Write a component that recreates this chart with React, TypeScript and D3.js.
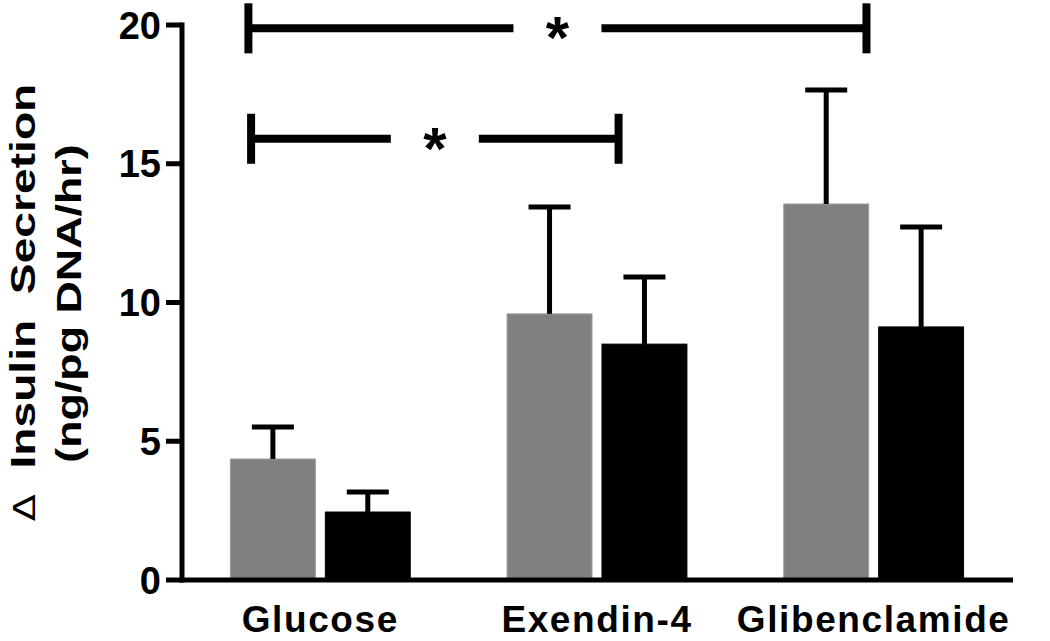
import * as d3 from "d3";
import React from "react";

// chart data
const categories = ["Glucose", "Exendin-4", "Glibenclamide"];
const seriesKeys = ["grey", "black"];
const greyMeans = [4.36, 9.59, 13.55];
const greySem = [1.15, 3.85, 4.11];
const blackMeans = [2.45, 8.5, 9.12];
const blackSem = [0.72, 2.42, 3.6];
const yTicks = [0, 5, 10, 15, 20];
const brackets = [
  { from: "Glucose", fromFrac: 0.1, to: "Glibenclamide", toFrac: 0.46, level: 19.88 },
  { from: "Glucose", fromFrac: 0.115, to: "Exendin-4", toFrac: 0.62, level: 15.9 },
];

const W = 1050;
const H = 641;
const font = "'Liberation Sans', Arial, sans-serif";

const App = () => {
  // scales
  const x = d3.scaleBand().domain(categories).range([182, 1012]).paddingInner(0.35).paddingOuter(0.175);
  const xs = d3.scaleBand().domain(seriesKeys).range([0, x.bandwidth()]).paddingInner(10 / 95);
  const y = d3.scaleLinear().domain([0, 20]).range([580, 25]);
  const axisX = 182;
  const midY = (y(0) + y(20)) / 2;

  const rows = categories.map((c, i) => ({
    cat: c,
    bars: [
      { key: "grey", mean: greyMeans[i], sem: greySem[i], fill: "#808080", stroke: "#9c9c9c" },
      { key: "black", mean: blackMeans[i], sem: blackSem[i], fill: "#000", stroke: "#000" },
    ],
  }));

  return (
    <svg width={W} height={H} style={{ position: "absolute", left: 0, top: 0, background: "#fff" }} fontFamily={font}>
      {/* bars */}
      {rows.map((r) =>
        r.bars.map((b) => {
          const bx = x(r.cat)! + xs(b.key)!;
          const cx = bx + xs.bandwidth() / 2;
          return (
            <g key={r.cat + b.key}>
              <rect x={bx} y={y(b.mean)} width={xs.bandwidth()} height={y(0) - y(b.mean)} fill={b.fill} stroke={b.stroke} strokeWidth={1} />
              <line x1={cx} x2={cx} y1={y(b.mean)} y2={y(b.mean + b.sem)} stroke="#000" strokeWidth={5} />
              <line x1={cx - 21} x2={cx + 21} y1={y(b.mean + b.sem)} y2={y(b.mean + b.sem)} stroke="#000" strokeWidth={5} />
            </g>
          );
        })
      )}

      {/* axes */}
      <line x1={axisX} x2={axisX} y1={y(20) - 2.5} y2={y(0) + 2.5} stroke="#000" strokeWidth={5} />
      <line x1={axisX - 2.5} x2={1013} y1={y(0)} y2={y(0)} stroke="#000" strokeWidth={5} />
      {yTicks.map((t) => (
        <g key={t}>
          <line x1={axisX - 16} x2={axisX} y1={y(t)} y2={y(t)} stroke="#000" strokeWidth={5} />
          <text x={axisX - 21} y={y(t) + 13.5} textAnchor="end" fontSize={38} fontWeight="bold">
            {t}
          </text>
        </g>
      ))}
      {categories.map((c) => (
        <text key={c} x={x(c)! + x.bandwidth() / 2} y={632} textAnchor="middle" fontSize={37} fontWeight="bold" letterSpacing={1.6}>
          {c}
        </text>
      ))}

      {/* y title, stretched along its length like the source */}
      <g transform={`translate(35, ${midY}) rotate(-90) scale(1.32, 1)`}>
        <text textAnchor="middle" fontSize={35} fontWeight="bold" style={{ whiteSpace: "pre" }}>
          <tspan fontWeight="normal" fontFamily="'DejaVu Sans', sans-serif" fontSize={30}>Δ</tspan>
          {"  Insulin  Secretion"}
        </text>
      </g>
      <g transform={`translate(81, ${midY + 1}) rotate(-90) scale(1.28, 1)`}>
        <text textAnchor="middle" fontSize={35} fontWeight="bold">
          (ng/pg DNA/hr)
        </text>
      </g>

      {/* significance brackets */}
      {brackets.map((b, i) => {
        const x1 = x(b.from)! + b.fromFrac * x.bandwidth();
        const x2 = x(b.to)! + b.toFrac * x.bandwidth();
        const ly = y(b.level);
        const mid = (x1 + x2) / 2;
        const gap = 44;
        return (
          <g key={i} stroke="#000" strokeWidth={8}>
            <line x1={x1} x2={x1} y1={ly - 25} y2={ly + 25} />
            <line x1={x2} x2={x2} y1={ly - 25} y2={ly + 25} />
            <line x1={x1} x2={mid - gap} y1={ly} y2={ly} />
            <line x1={mid + gap} x2={x2} y1={ly} y2={ly} />
            <text x={mid} y={ly + 30} stroke="none" textAnchor="middle" fontSize={60} fontWeight="bold">
              *
            </text>
          </g>
        );
      })}
    </svg>
  );
};

export default App;
